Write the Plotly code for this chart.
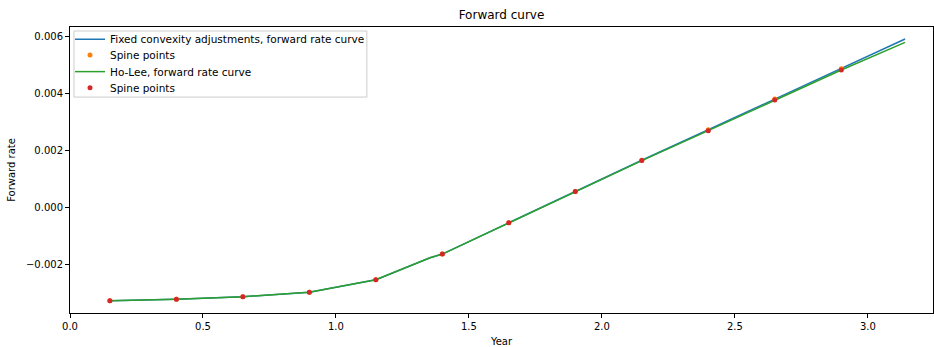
import plotly.graph_objects as go

# Spine points (year, forward rate)
spine_x = [0.15, 0.40, 0.65, 0.90, 1.15, 1.40, 1.65, 1.90, 2.15, 2.40, 2.65, 2.90]
spine_fixed = [-0.003257, -0.003209, -0.003117, -0.002963, -0.002522, -0.001622,
               -0.000525, 0.000574, 0.001668, 0.002738, 0.003812, 0.004872]
spine_holee = [-0.003257, -0.003209, -0.003117, -0.002963, -0.002522, -0.001622,
               -0.000525, 0.000570, 0.001655, 0.002705, 0.003780, 0.004832]

# Forward rate curves
curve_x = [0.15, 0.40, 0.65, 0.90, 1.15, 1.354, 1.40, 1.65, 1.90, 2.15, 2.40, 2.65, 2.90, 3.14]
curve_fixed = [-0.003257, -0.003209, -0.003117, -0.002963, -0.002522, -0.001750, -0.001622,
               -0.000525, 0.000574, 0.001668, 0.002738, 0.003812, 0.004872, 0.005920]
curve_holee = [-0.003257, -0.003209, -0.003117, -0.002963, -0.002522, -0.001750, -0.001622,
               -0.000525, 0.000570, 0.001655, 0.002705, 0.003780, 0.004832, 0.005800]

x_ticks = [0.0, 0.5, 1.0, 1.5, 2.0, 2.5, 3.0]
y_ticks = [-0.002, 0.000, 0.002, 0.004, 0.006]

font = "DejaVu Sans"

fig = go.Figure()
fig.add_trace(go.Scatter(x=curve_x, y=curve_fixed, mode="lines",
                         line=dict(color="#1f77b4", width=1.5),
                         name="Fixed convexity adjustments, forward rate curve",
                         legend="legend"))
fig.add_trace(go.Scatter(x=spine_x, y=spine_fixed, mode="markers",
                         marker=dict(color="#ff7f0e", size=5),
                         name="Spine points", legend="legend2"))
fig.add_trace(go.Scatter(x=curve_x, y=curve_holee, mode="lines",
                         line=dict(color="#2ca02c", width=1.5),
                         name="Ho-Lee, forward rate curve", legend="legend3"))
fig.add_trace(go.Scatter(x=spine_x, y=spine_holee, mode="markers",
                         marker=dict(color="#d62728", size=5),
                         name="Spine points", legend="legend4"))

axis_common = dict(showline=True, linecolor="black", linewidth=1, mirror=True,
                   ticks="outside", ticklen=4, tickcolor="black", showgrid=False,
                   zeroline=False, tickfont=dict(family=font, size=10, color="black"))

def leg(yc):
    return dict(x=0.0, y=yc, xanchor="left", yanchor="middle",
                bgcolor="rgba(0,0,0,0)", borderwidth=0,
                font=dict(family=font, size=10.5, color="black"), itemwidth=30)

fig.update_layout(
    width=934, height=347,
    margin=dict(l=70, r=1, t=27, b=34),
    paper_bgcolor="white", plot_bgcolor="white",
    font=dict(family=font, size=10, color="black"),
    title=dict(text="Forward curve", x=0.5, xanchor="center", y=0.97, yanchor="top",
               xref="paper", font=dict(family=font, size=12, color="black")),
    xaxis=dict(range=[0, 3.245], tickvals=x_ticks, tickformat=".1f",
               title=dict(text="Year", standoff=6, font=dict(family=font, size=10)),
               **axis_common),
    yaxis=dict(range=[-0.003688, 0.00634], tickvals=y_ticks, tickformat=".3f",
               title=dict(text="Forward rate", standoff=8, font=dict(family=font, size=10)),
               **axis_common),
    legend=leg(0.957),
    legend2=leg(0.902),
    legend3=leg(0.844),
    legend4=leg(0.788),
    shapes=[dict(type="rect", xref="paper", yref="paper",
                 x0=0.0046, x1=0.344, y0=0.755, y1=0.986,
                 fillcolor="rgba(255,255,255,0.8)", line=dict(color="#cccccc", width=1),
                 layer="above")],
    showlegend=True,
)

fig.write_html("out.html")
